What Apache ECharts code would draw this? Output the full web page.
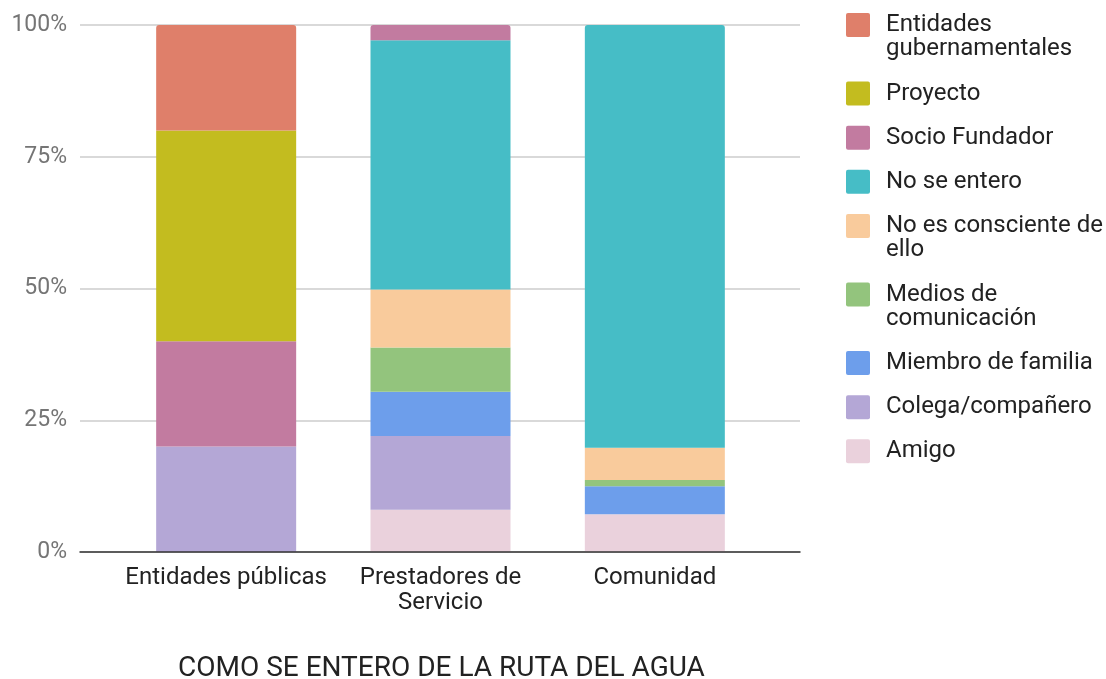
<!DOCTYPE html>
<html>
<head>
<meta charset="utf-8">
<script src="https://cdn.jsdelivr.net/npm/echarts@6/dist/echarts.min.js"></script>
<style>
  html, body { margin: 0; background: #fff; }
  #chart { width: 1106px; height: 679px; }
</style>
</head>
<body>
<div id="chart"></div>
<script>
// categories and values (percent of each group)
const categories = ['Entidades públicas', 'Prestadores de Servicio', 'Comunidad']
const amigo = [0, 8, 7.15]
const colega = [20, 14, 0]
const miembro = [0, 8.4, 5.35]
const medios = [0, 8.4, 1.15]
const noConsciente = [0, 11, 6.15]
const noEntero = [0, 47.3, 80.2]
const socio = [20, 2.9, 0]
const proyecto = [40, 0, 0]
const gubernamentales = [20, 0, 0]
const yTicks = [0, 25, 50, 75, 100]

// stack order, bottom to top
const seriesNames = ['Amigo', 'Colega/compañero', 'Miembro de familia', 'Medios de comunicación',
  'No es consciente de ello', 'No se entero', 'Socio Fundador', 'Proyecto', 'Entidades gubernamentales']
const seriesData = [amigo, colega, miembro, medios, noConsciente, noEntero, socio, proyecto, gubernamentales]
const colors = ['#EAD1DC', '#B4A7D6', '#6D9EEB', '#93C47D', '#F9CB9C', '#46BDC6', '#C27BA0', '#C3BC1F', '#DF7F6A']

// wrapped texts
const legendText = {
  'Entidades gubernamentales': 'Entidades\ngubernamentales',
  'No es consciente de ello': 'No es consciente de\nello',
  'Medios de comunicación': 'Medios de\ncomunicación'
}
const catText = { 'Prestadores de Servicio': 'Prestadores de\nServicio' }

const font = 'Roboto'
const sq = 'M2,0L22,0Q24,0 24,2L24,22Q24,24 22,24L2,24Q0,24 0,22L0,2Q0,0 2,0Z'

let myCharts = echarts.init(document.getElementById('chart'))

// topmost non-empty segment of each bar gets rounded corners
let topSeries = categories.map(function (c, j) {
  let t = 0
  seriesData.forEach(function (d, i) { if (d[j] > 0) t = i })
  return t
})

// one legend per entry so two-line names keep the box on the first line
let legends = []
let legendTop = 13
seriesNames.slice().reverse().forEach(function (name) {
  let lines = (legendText[name] || name).split('\n').length
  let h = 24 * lines
  legends.push({
    data: [name],
    left: 846,
    top: legendTop,
    padding: 0,
    itemGap: 0,
    itemWidth: 35,
    itemHeight: h,
    icon: 'path://M0,0M35,' + h + sq,
    formatter: function (n) { return legendText[n] || n },
    textStyle: { fontFamily: font, fontSize: 24, lineHeight: 24, color: '#222' }
  })
  legendTop += 19.6 + 24.5 * lines
})

myCharts.setOption({
  animation: false,
  title: {
    text: 'COMO SE ENTERO DE LA RUTA DEL AGUA',
    left: 178,
    top: 655,
    padding: 0,
    textStyle: { fontFamily: font, fontSize: 28, fontWeight: 'normal', color: '#222' }
  },
  legend: legends,
  grid: [
    { left: 80, width: 720, top: 25, height: 527 },
    { left: 119, width: 643, top: 25, height: 527 }
  ],
  xAxis: [{
    gridIndex: 0,
    type: 'value',
    min: 0,
    max: 1,
    z: 10,
    axisLine: { show: true, lineStyle: { color: '#333', width: 1.5 } },
    axisTick: { show: false },
    axisLabel: { show: false },
    splitLine: { show: false }
  }, {
    gridIndex: 1,
    type: 'category',
    data: categories,
    axisLine: { show: false },
    axisTick: { show: false },
    axisLabel: {
      interval: 0,
      margin: 13,
      fontFamily: font,
      fontSize: 24,
      lineHeight: 25,
      color: '#222',
      formatter: function (v) { return catText[v] || v }
    }
  }],
  yAxis: [{
    gridIndex: 0,
    type: 'value',
    min: yTicks[0],
    max: yTicks[yTicks.length - 1],
    interval: yTicks[1] - yTicks[0],
    axisLine: { show: false },
    axisTick: { show: false },
    axisLabel: {
      margin: 13,
      fontFamily: font,
      fontSize: 23,
      color: '#757575',
      formatter: '{value}%'
    },
    splitLine: { lineStyle: { color: '#ccc', width: 1.5 } }
  }, {
    gridIndex: 1,
    type: 'value',
    min: yTicks[0],
    max: yTicks[yTicks.length - 1],
    show: false
  }],
  series: seriesNames.map(function (name, i) {
    return {
      name: name,
      type: 'bar',
      stack: 'total',
      xAxisIndex: 1,
      yAxisIndex: 1,
      barWidth: 140,
      itemStyle: { color: colors[i] },
      data: seriesData[i].map(function (v, j) {
        return topSeries[j] === i ? { value: v, itemStyle: { borderRadius: [3, 3, 0, 0] } } : v
      })
    }
  })
})
</script>
</body>
</html>
